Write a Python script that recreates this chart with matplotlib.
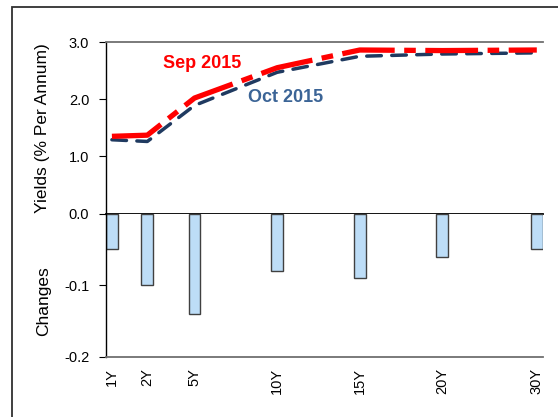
import matplotlib
matplotlib.use("Agg")
import matplotlib.pyplot as plt
import numpy as np

plt.rcParams['font.family'] = ['Liberation Sans', 'DejaVu Sans']

# tenors and their slot on the (Excel-style) category axis
tenors = ["1Y", "2Y", "5Y", "10Y", "15Y", "20Y", "30Y"]
slots = [0, 3, 7, 14, 21, 28, 36]
n_slots = 37

sep_2015 = [1.35, 1.37, 2.02, 2.55, 2.86, 2.85, 2.86]
oct_2015 = [1.29, 1.26, 1.89, 2.47, 2.75, 2.79, 2.81]
changes = [-0.05, -0.10, -0.14, -0.08, -0.09, -0.06, -0.05]

W, H = 558, 417
fig = plt.figure(figsize=(W / 100, H / 100), dpi=100)

# outer frame (cropped on the right and bottom)
frame = plt.Rectangle((12 / W, -0.2), 1.5, 1.2 - 7 / H, transform=fig.transFigure,
                      fill=False, edgecolor="#303030", linewidth=1.3)
fig.patches.append(frame)

left = 106 / W
width = 542.7 / W - left
y_top = 1 - 42 / H
y_mid = 1 - 213.5 / H
y_bot = 1 - 357 / H

ax_top = fig.add_axes([left, y_mid, width, y_top - y_mid])
ax_bot = fig.add_axes([left, y_bot, width, y_mid - y_bot])

centers = np.array(slots) + 0.5

# yields
ax_top.plot(centers, sep_2015, color="#FF0000", linewidth=3.8,
            dashes=(10, 1.8, 2.2, 1.8), solid_capstyle="butt", dash_capstyle="butt", zorder=3)
ax_top.plot(centers, oct_2015, color="#1F3A60", linewidth=2.5,
            dashes=(4.2, 3.0), dash_capstyle="round", zorder=2)
ax_top.text(4.8, 2.62, "Sep 2015", color="#FF0000", fontsize=13, fontweight="bold",
            ha="left", va="center")
ax_top.text(12.0, 2.03, "Oct 2015", color="#3B6496", fontsize=13, fontweight="bold",
            ha="left", va="center")

ax_top.set_xlim(0, n_slots)
ax_top.set_ylim(0, 3)
ax_top.set_yticks([0, 1, 2, 3])
ax_top.set_yticklabels(["0.0", "1.0", "2.0", "3.0"])
ax_top.set_xticks([])
ax_top.spines["right"].set_visible(False)
ax_top.spines["top"].set_color("#707070")
ax_top.spines["top"].set_linewidth(1.3)
ax_top.spines["bottom"].set_color("black")
ax_top.spines["bottom"].set_linewidth(1.3)
ax_top.spines["left"].set_linewidth(1.0)
ax_top.tick_params(axis="y", length=5, pad=7, labelsize=10.5, direction="out")

# changes
ax_bot.bar(slots, changes, width=1.0, align="edge", color="#BDDDF7",
           edgecolor="#404040", linewidth=1.0)
ax_bot.set_xlim(0, n_slots)
ax_bot.set_ylim(-0.2, 0)
ax_bot.set_yticks([-0.2, -0.1])
ax_bot.set_yticklabels(["-0.2", "-0.1"])
ax_bot.set_xticks(centers)
ax_bot.set_xticklabels(tenors, rotation=90, fontsize=10.5)
ax_bot.spines["right"].set_visible(False)
ax_bot.spines["top"].set_visible(False)
ax_bot.spines["bottom"].set_color("#707070")
ax_bot.spines["bottom"].set_linewidth(1.3)
ax_bot.spines["left"].set_linewidth(1.0)
ax_bot.tick_params(axis="y", length=5, pad=7, labelsize=10.5, direction="out")
ax_bot.tick_params(axis="x", length=0, pad=8)

fig.text(43 / W, 1 - 128 / H, "Yields (% Per Annum)", rotation=90,
         ha="center", va="center", fontsize=12.5)
fig.text(44 / W, 1 - 301 / H, "Changes", rotation=90,
         ha="center", va="center", fontsize=12.5)

fig.savefig("out.png", dpi=100)
